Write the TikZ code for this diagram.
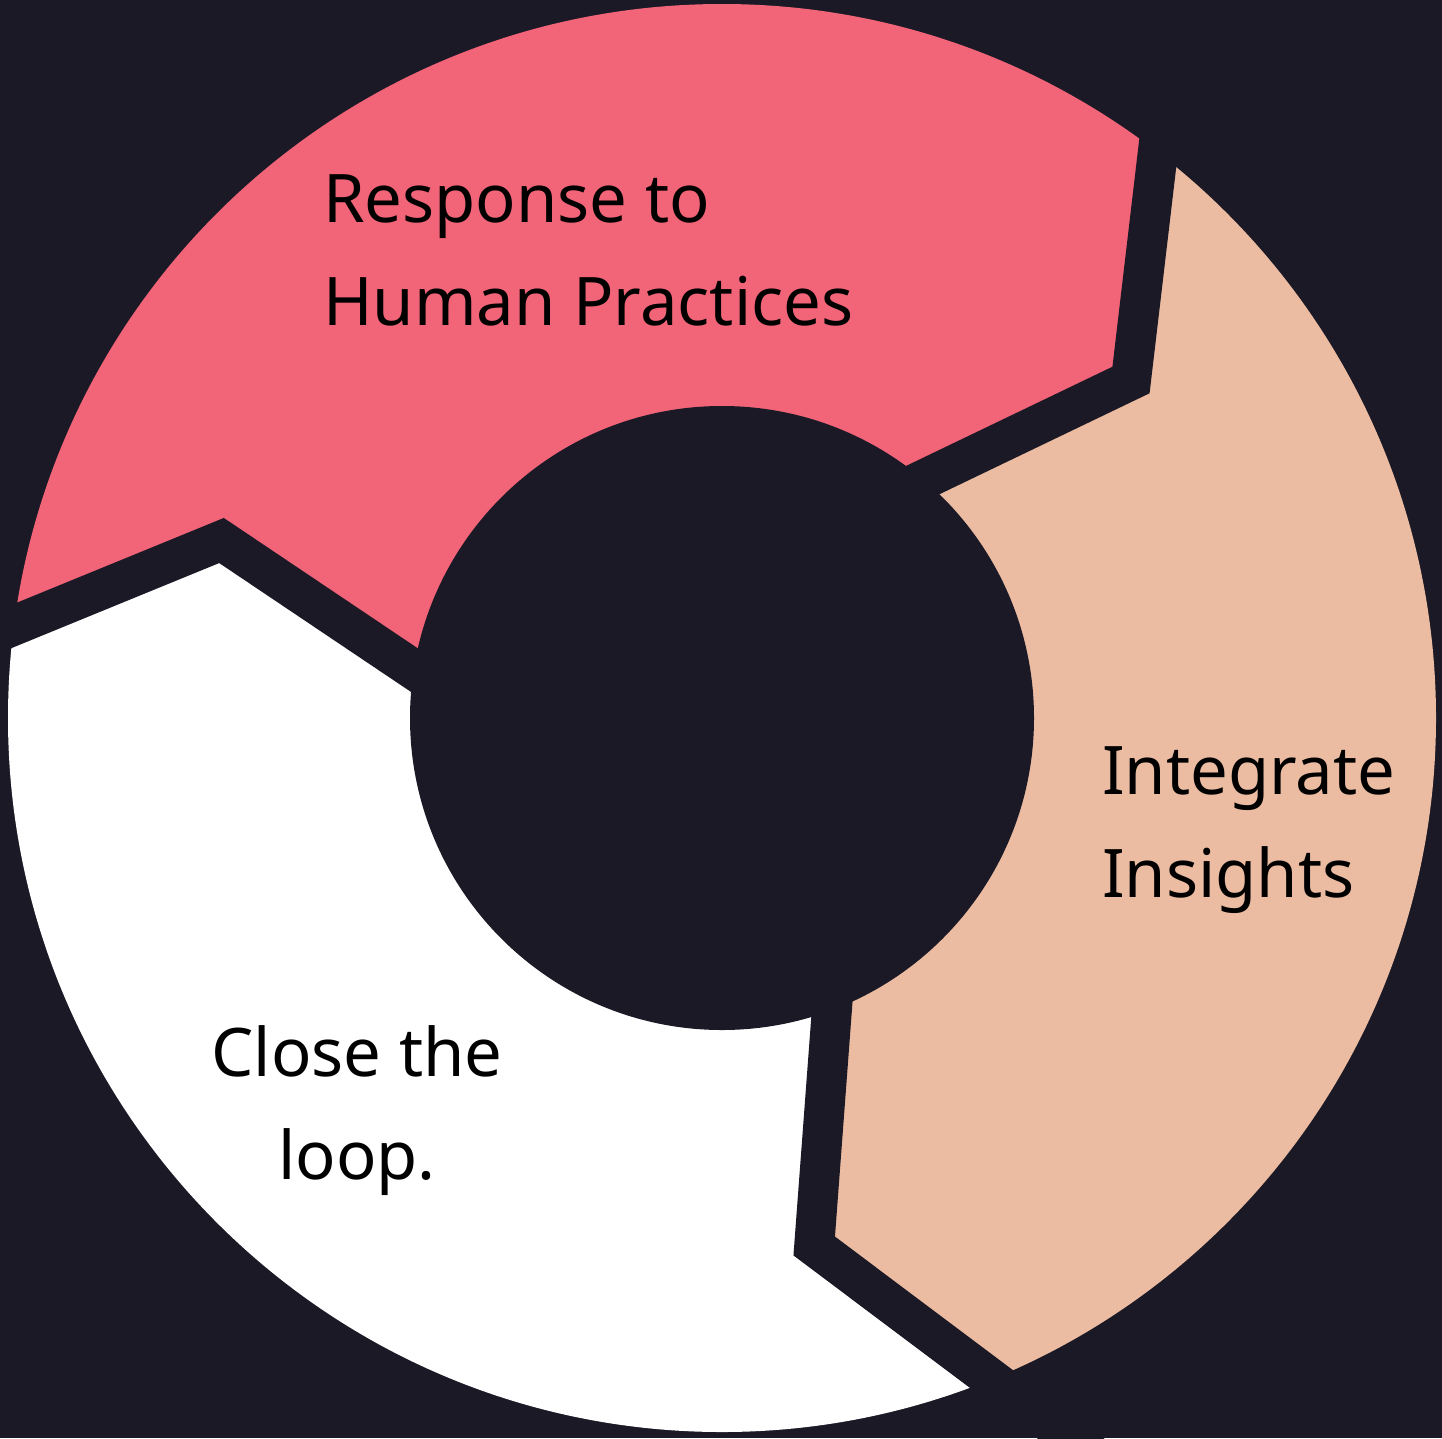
\documentclass[tikz,border=0pt]{standalone}
\usepackage{fontspec}
\setmainfont{Noto Sans}
\definecolor{bgc}{HTML}{1B1926}
\definecolor{pinkc}{HTML}{F26478}
\definecolor{peachc}{HTML}{EBBCA2}
\tikzset{
  gapline/.style={draw=bgc, line width=40pt, line join=miter, miter limit=10},
  lbl/.style={inner sep=0pt, text=black, font=\fontsize{67}{103}\selectfont}
}
\begin{document}
\begin{tikzpicture}[x=1pt,y=-1pt]
\fill[bgc] (0,0) rectangle (1442,1438);
\useasboundingbox (0,0) rectangle (1442,1438);
\coordinate (C) at (722,718);
% joint L (pink -> white)
\coordinate (Lo) at (-198.5,712.5);
\coordinate (La) at (221.5,540.5);
\coordinate (Li) at (413.5,669.5);
\coordinate (Lx) at (509.5,734);
% joint R (pink -> peach)
\coordinate (Ro) at (1212,-307);
\coordinate (Ra) at (1131,380);
\coordinate (Ri) at (925,479);
\coordinate (Rx) at (822,528.5);
% joint B (peach -> white)
\coordinate (Bo) at (1346,1645);
\coordinate (Ba) at (814.2,1246);
\coordinate (Bi) at (831.7,1011.7);
\coordinate (Bx) at (840.5,894.5);
\begin{scope}
\clip (C) circle (714);
\fill[pinkc] (C) -- (Li) -- (La) -- (Lo) -- (-400,-400) -- (Ro) -- (Ra) -- (Ri) -- cycle;
\fill[peachc] (C) -- (Ri) -- (Ra) -- (Ro) -- (1900,-400) -- (1900,1900) -- (Bo) -- (Ba) -- (Bi) -- cycle;
\fill[white] (C) -- (Bi) -- (Ba) -- (Bo) -- (-400,1900) -- (Lo) -- (La) -- (Li) -- cycle;
\end{scope}
\draw[gapline] (Lo) -- (La) -- (Lx);
\draw[gapline] (Ro) -- (Ra) -- (Rx);
\draw[gapline] (Bo) -- (Ba) -- (Bx);
\fill[bgc] (C) circle (312);
\node[lbl, anchor=base west, align=left] (t1) at (323,325) {Response to\\Human Practices};
\node[lbl, anchor=base west, align=left] (t2) at (1102,897) {Integrate\\Insights};
\node[lbl, anchor=base, align=center] (t3) at (357,1179) {Close the\\loop.};
\end{tikzpicture}
\end{document}
